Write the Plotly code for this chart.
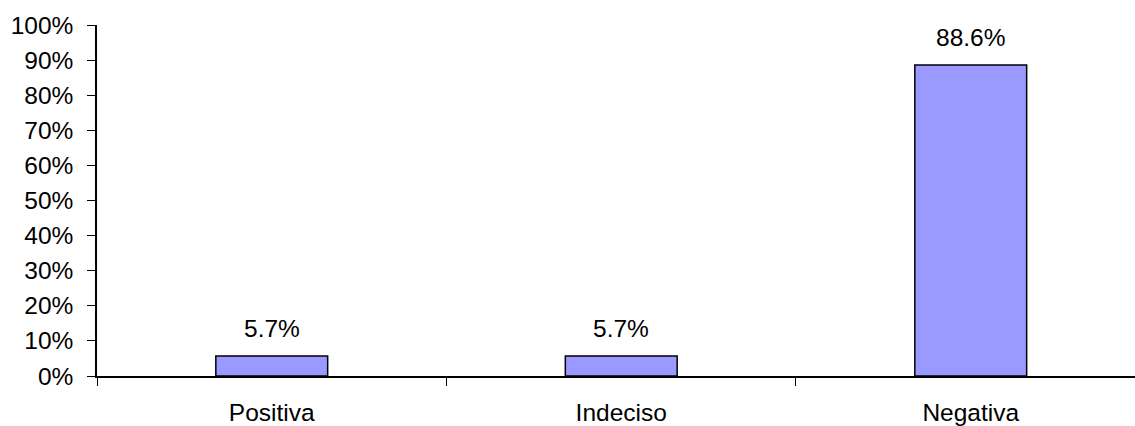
import plotly.graph_objects as go

# Survey answer categories and their share of responses (%)
categories = ["Positiva", "Indeciso", "Negativa"]
shares = [5.7, 5.7, 88.6]
y_ticks = list(range(0, 101, 10))
y_tick_labels = [f"{v}%" for v in y_ticks]

FONT = dict(family="Liberation Sans, Arial, sans-serif", size=24.5, color="black")

fig = go.Figure()
fig.add_trace(go.Bar(
    x=categories,
    y=shares,
    width=0.32,
    marker=dict(color="#9999FF", line=dict(color="black", width=1.5)),
    hoverinfo="skip",
))

# Value labels above each bar
for cat, val in zip(categories, shares):
    fig.add_annotation(
        x=cat, y=val, text=f"{val:.1f}%",
        showarrow=False, yanchor="bottom", yshift=12,
        font=FONT,
    )

fig.update_layout(
    width=1135, height=426,
    margin=dict(l=97, r=0, t=25, b=50),
    paper_bgcolor="white", plot_bgcolor="white",
    showlegend=False,
    font=FONT,
)
fig.update_xaxes(
    type="category",
    range=[-0.5, 2.47],
    showline=True, linecolor="black", linewidth=1.5,
    ticks="outside", tickson="boundaries", ticklen=8, tickwidth=1.2, tickcolor="black",
    ticklabelstandoff=14,
    showgrid=False, zeroline=False,
    tickfont=FONT,
)
fig.update_yaxes(
    range=[0, 100],
    tickvals=y_ticks, ticktext=y_tick_labels,
    showline=True, linecolor="black", linewidth=1.5,
    ticks="outside", ticklen=8, tickwidth=1.2, tickcolor="black",
    ticklabelstandoff=9,
    showgrid=False, zeroline=False,
    tickfont=FONT,
)

fig.write_html("out.html")
